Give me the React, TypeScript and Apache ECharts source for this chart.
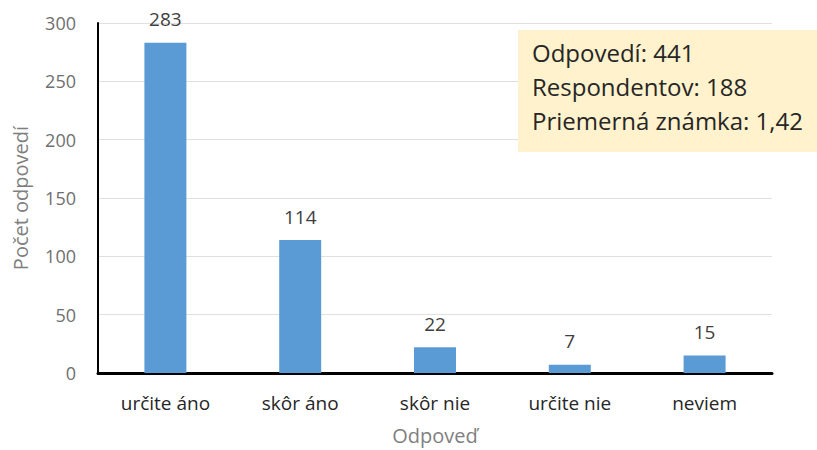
import React, { useEffect, useRef } from "react";
import * as echarts from "echarts";

const categories = ["určite áno", "skôr áno", "skôr nie", "určite nie", "neviem"];
const counts = [283, 114, 22, 7, 15];
const yTicks = [0, 50, 100, 150, 200, 250, 300];
const infoLines = ["Odpovedí: 441", "Respondentov: 188", "Priemerná známka: 1,42"];

const FONT = "'Open Sans', 'Noto Sans', sans-serif";

export default function App() {
  const ref = useRef<HTMLDivElement>(null);
  useEffect(() => {
    if (!ref.current) return;
    const chart = echarts.init(ref.current, null, { renderer: "svg" });
    chart.setOption({
      animation: false,
      backgroundColor: "#ffffff",
      grid: { left: 98, right: 45, top: 23, bottom: 74, containLabel: false },
      xAxis: {
        type: "category",
        data: categories,
        name: "Odpoveď",
        nameLocation: "middle",
        nameGap: 52,
        nameTextStyle: { color: "#7f7f7f", fontSize: 20, fontFamily: FONT },
        axisLine: { lineStyle: { color: "#000000", width: 3 } },
        axisTick: { show: false },
        axisLabel: { color: "#262626", fontSize: 19, fontFamily: FONT, margin: 20 },
      },
      yAxis: {
        type: "value",
        min: yTicks[0],
        max: yTicks[yTicks.length - 1],
        interval: 50,
        name: "Počet odpovedí",
        nameLocation: "middle",
        nameGap: 68,
        nameTextStyle: { color: "#7f7f7f", fontSize: 20, fontFamily: FONT },
        axisLine: { show: true, lineStyle: { color: "#000000", width: 2 } },
        axisTick: { show: false },
        axisLabel: { color: "#6f6f6f", fontSize: 18, fontFamily: FONT, margin: 22 },
        splitLine: { show: true, lineStyle: { color: "#e0e0e0", width: 1 } },
      },
      series: [
        {
          type: "bar",
          data: counts,
          barWidth: 42,
          itemStyle: { color: "#5b9bd5" },
          label: {
            show: true,
            position: "top",
            distance: 14,
            color: "#404040",
            fontSize: 19,
            fontFamily: FONT,
          },
        },
      ],
      graphic: [
        {
          type: "rect",
          left: 518,
          top: 30,
          shape: { width: 299, height: 122 },
          style: { fill: "#fff2cc" },
          z: 10,
        },
        ...infoLines.map((t, i) => ({
          type: "text",
          left: 532,
          top: 40 + i * 34,
          z: 11,
          style: { text: t, fill: "#262626", fontSize: 24, fontFamily: FONT },
        })),
      ],
    });
    return () => chart.dispose();
  }, []);
  return (
    <div
      ref={ref}
      style={{ position: "absolute", left: 0, top: 0, width: 817, height: 450 }}
    />
  );
}
